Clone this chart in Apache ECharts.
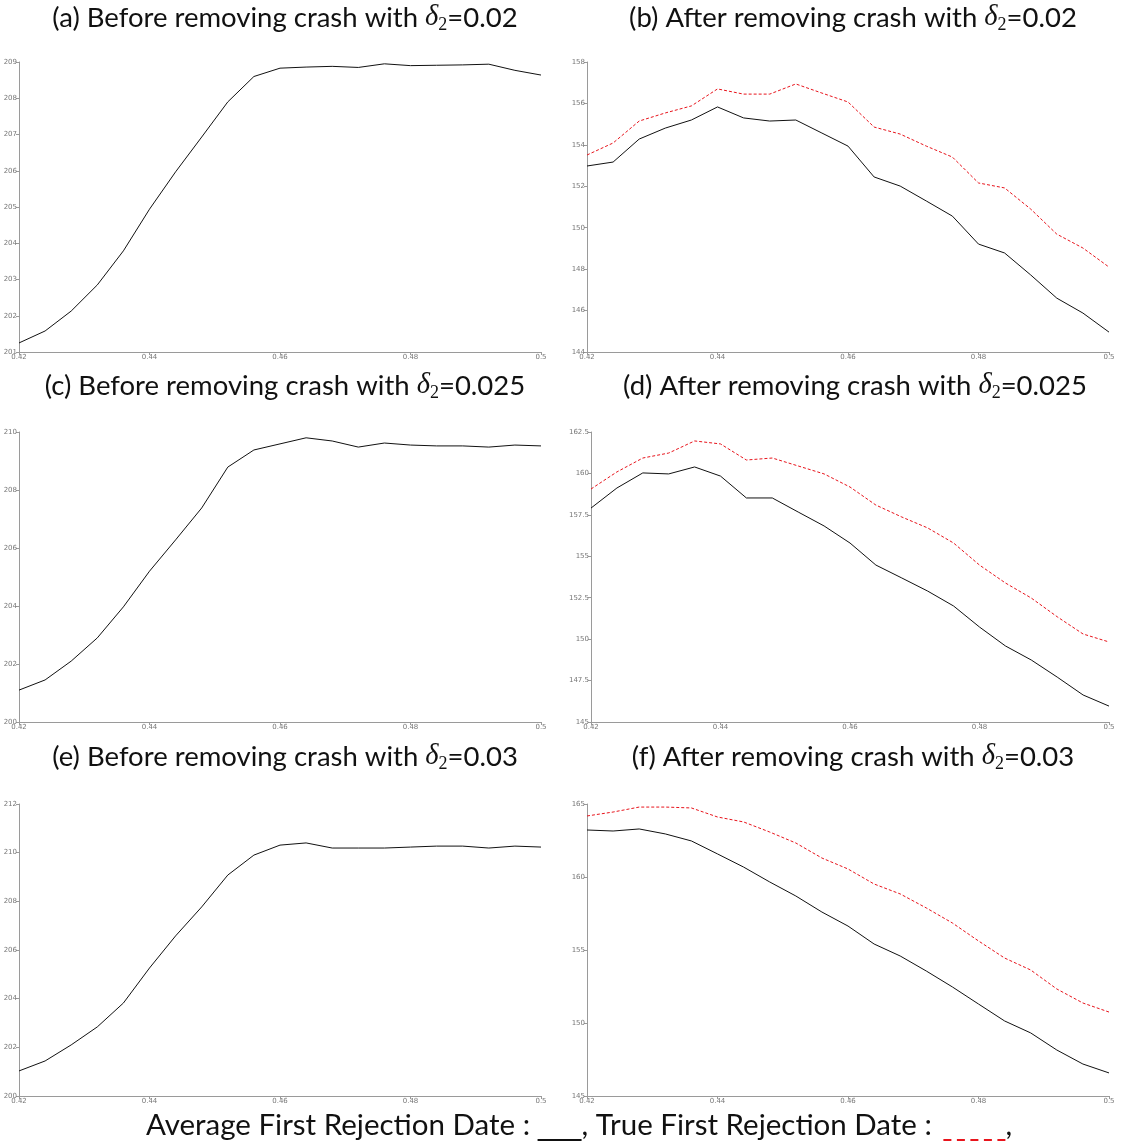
<!DOCTYPE html>
<html>
<head>
<meta charset="utf-8">
<script src="https://cdn.jsdelivr.net/npm/echarts@6/dist/echarts.min.js"></script>
<style>
  html, body { margin: 0; padding: 0; background: #fff; }
  #chart { width: 1121px; height: 1145px; }
</style>
</head>
<body>
<div id="chart"></div>
<script>
// Threshold values on the horizontal axis (shared by all panels)
const thresholds = [0.42, 0.424, 0.428, 0.432, 0.436, 0.44, 0.444, 0.448, 0.452, 0.456, 0.46,
                    0.464, 0.468, 0.472, 0.476, 0.48, 0.484, 0.488, 0.492, 0.496, 0.5];

// (a) before removing crash, delta2 = 0.02
const avgBefore002 = [201.25, 201.58, 202.13, 202.85, 203.79, 204.94, 205.97, 206.93, 207.9, 208.6, 208.83,
                      208.86, 208.88, 208.85, 208.95, 208.9, 208.91, 208.92, 208.94, 208.77, 208.64];
// (b) after removing crash, delta2 = 0.02
const avgAfter002  = [152.98, 153.17, 154.28, 154.81, 155.2, 155.83, 155.3, 155.15, 155.2, 154.57, 153.94,
                      152.45, 152.01, 151.29, 150.56, 149.21, 148.78, 147.72, 146.6, 145.88, 144.96];
const trueAfter002 = [153.51, 154.09, 155.15, 155.54, 155.88, 156.7, 156.45, 156.45, 156.94, 156.5, 156.07,
                      154.86, 154.52, 153.94, 153.41, 152.16, 151.92, 150.9, 149.69, 149.02, 148.1];
// (c) before removing crash, delta2 = 0.025
const avgBefore0025 = [201.1, 201.45, 202.1, 202.9, 203.97, 205.2, 206.28, 207.38, 208.79, 209.38, 209.59,
                       209.8, 209.69, 209.48, 209.62, 209.55, 209.52, 209.52, 209.48, 209.55, 209.52];
// (d) after removing crash, delta2 = 0.025
const avgAfter0025  = [157.91, 159.12, 160.03, 159.97, 160.39, 159.84, 158.52, 158.52, 157.67, 156.83, 155.8,
                       154.47, 153.69, 152.9, 152.0, 150.73, 149.59, 148.74, 147.71, 146.63, 145.96];
const trueAfter0025 = [159.06, 160.09, 160.93, 161.23, 161.96, 161.78, 160.81, 160.93, 160.45, 159.97, 159.18,
                       158.09, 157.37, 156.71, 155.8, 154.47, 153.39, 152.48, 151.35, 150.31, 149.83];
// (e) before removing crash, delta2 = 0.03
const avgBefore003 = [201.03, 201.44, 202.1, 202.84, 203.82, 205.26, 206.58, 207.77, 209.08, 209.9, 210.31,
                      210.4, 210.19, 210.19, 210.19, 210.23, 210.27, 210.27, 210.19, 210.27, 210.23];
// (f) after removing crash, delta2 = 0.03
const avgAfter003  = [163.22, 163.15, 163.29, 162.95, 162.47, 161.58, 160.68, 159.66, 158.7, 157.6, 156.64,
                      155.41, 154.59, 153.56, 152.47, 151.3, 150.14, 149.32, 148.15, 147.19, 146.58];
const trueAfter003 = [164.18, 164.45, 164.79, 164.79, 164.73, 164.11, 163.77, 163.08, 162.33, 161.3, 160.55,
                      159.52, 158.84, 157.88, 156.85, 155.62, 154.45, 153.63, 152.33, 151.37, 150.75];

// Panel captions and y-axis ranges
const captions = [
  ['(a) Before removing crash with ', '=0.02'],
  ['(b) After removing crash with ', '=0.02'],
  ['(c) Before removing crash with ', '=0.025'],
  ['(d) After removing crash with ', '=0.025'],
  ['(e) Before removing crash with ', '=0.03'],
  ['(f) After removing crash with ', '=0.03']
];
const yRanges = [[201, 209, 1], [144, 158, 2], [200, 210, 2], [145, 162.5, 2.5], [200, 212, 2], [145, 165, 5]];

const legendText = ['Average First Rejection Date : ', ', True First Rejection Date : ', ','];

// Panel geometry
const panels = [
  { left: 19,  top: 62,  width: 522, height: 290 },
  { left: 587, top: 62,  width: 522, height: 290 },
  { left: 19,  top: 432, width: 522, height: 290 },
  { left: 591, top: 432, width: 518, height: 290 },
  { left: 19,  top: 804, width: 522, height: 292 },
  { left: 587, top: 804, width: 522, height: 292 }
];
const captionTops = [-3, -3, 365, 365, 736, 736];

const pairs = ys => thresholds.map((x, i) => [x, ys[i]]);

const seriesDefs = [
  [{ d: avgBefore002 }],
  [{ d: avgAfter002 }, { d: trueAfter002, red: true }],
  [{ d: avgBefore0025 }],
  [{ d: avgAfter0025 }, { d: trueAfter0025, red: true }],
  [{ d: avgBefore003 }],
  [{ d: avgAfter003 }, { d: trueAfter003, red: true }]
];

const axisGray = '#9a9a9a';
const tickFont = { fontFamily: 'DejaVu Sans', fontSize: 7, color: '#777' };
const capSize = 27.5;
const legSize = 29.5;

const titleRich = {
  t: { fontFamily: 'Lato', fontWeight: 'normal', fontSize: capSize, color: '#111', lineHeight: 32 },
  d: { fontFamily: 'Liberation Serif', fontWeight: 'normal', fontStyle: 'italic', fontSize: capSize + 1, color: '#111', lineHeight: 32 },
  s: { fontFamily: 'Liberation Serif', fontWeight: 'normal', fontSize: 18, color: '#111', lineHeight: 19, verticalAlign: 'bottom' }
};

const titles = captions.map((c, i) => ({
  text: '{t|' + c[0] + '}{d|δ}{s|2}{t|' + c[1] + '}',
  left: panels[i].left + panels[i].width / 2,
  top: captionTops[i],
  textAlign: 'center',
  textStyle: { fontWeight: 'normal', rich: titleRich }
}));

// Legend line: solid black sample and red dashed sample drawn as rich-text boxes
let dashes = '';
for (let k = 0; k < 5; k++) dashes += '{rd| }' + (k < 4 ? '{gap| }' : '');
titles.push({
  text: '{t|' + legendText[0] + '}{bl| }{t|' + legendText[1] + '}{gap2| }' + dashes + '{t|' + legendText[2] + '}',
  left: 574,
  top: 1104,
  textAlign: 'center',
  textStyle: {
    fontWeight: 'normal',
    rich: {
      t: { fontFamily: 'Lato', fontWeight: 'normal', fontSize: legSize, color: '#111', lineHeight: 32 },
      bl: { width: 44, height: 2, lineHeight: 2, fontSize: 2, backgroundColor: '#111', verticalAlign: 'bottom' },
      rd: { width: 8, height: 2, lineHeight: 2, fontSize: 2, backgroundColor: '#e8141c', verticalAlign: 'bottom' },
      gap: { width: 5.5, height: 2, lineHeight: 2, fontSize: 2 },
      gap2: { width: 4, height: 2, lineHeight: 2, fontSize: 2 }
    }
  }
});

const grids = panels.map(p => ({ left: p.left, top: p.top, width: p.width, height: p.height, containLabel: false }));

const xAxes = panels.map((p, i) => ({
  type: 'value', gridIndex: i, min: 0.42, max: 0.5, interval: 0.02,
  axisLine: { lineStyle: { color: axisGray, width: 1 } },
  axisTick: { length: 3, lineStyle: { color: axisGray } },
  splitLine: { show: false },
  axisLabel: Object.assign({ margin: 2, formatter: v => String(+v.toFixed(2)) }, tickFont)
}));

const yAxes = yRanges.map((r, i) => ({
  type: 'value', gridIndex: i, min: r[0], max: r[1], interval: r[2],
  axisLine: { show: true, lineStyle: { color: axisGray, width: 1 } },
  axisTick: { show: true, length: 3, lineStyle: { color: axisGray } },
  splitLine: { show: false },
  axisLabel: Object.assign({ margin: 2 }, tickFont)
}));

const series = [];
seriesDefs.forEach((defs, i) => {
  defs.forEach(s => {
    series.push({
      type: 'line', xAxisIndex: i, yAxisIndex: i,
      data: pairs(s.d), showSymbol: false, symbol: 'none', silent: true,
      lineStyle: s.red
        ? { color: '#e8141c', width: 1, type: [3, 2] }
        : { color: '#111', width: 1 },
      z: s.red ? 3 : 2
    });
  });
});

const chart = echarts.init(document.getElementById('chart'), null, { renderer: 'canvas' });
chart.setOption({
  animation: false,
  backgroundColor: '#fff',
  title: titles,
  grid: grids,
  xAxis: xAxes,
  yAxis: yAxes,
  series: series
});
</script>
</body>
</html>
